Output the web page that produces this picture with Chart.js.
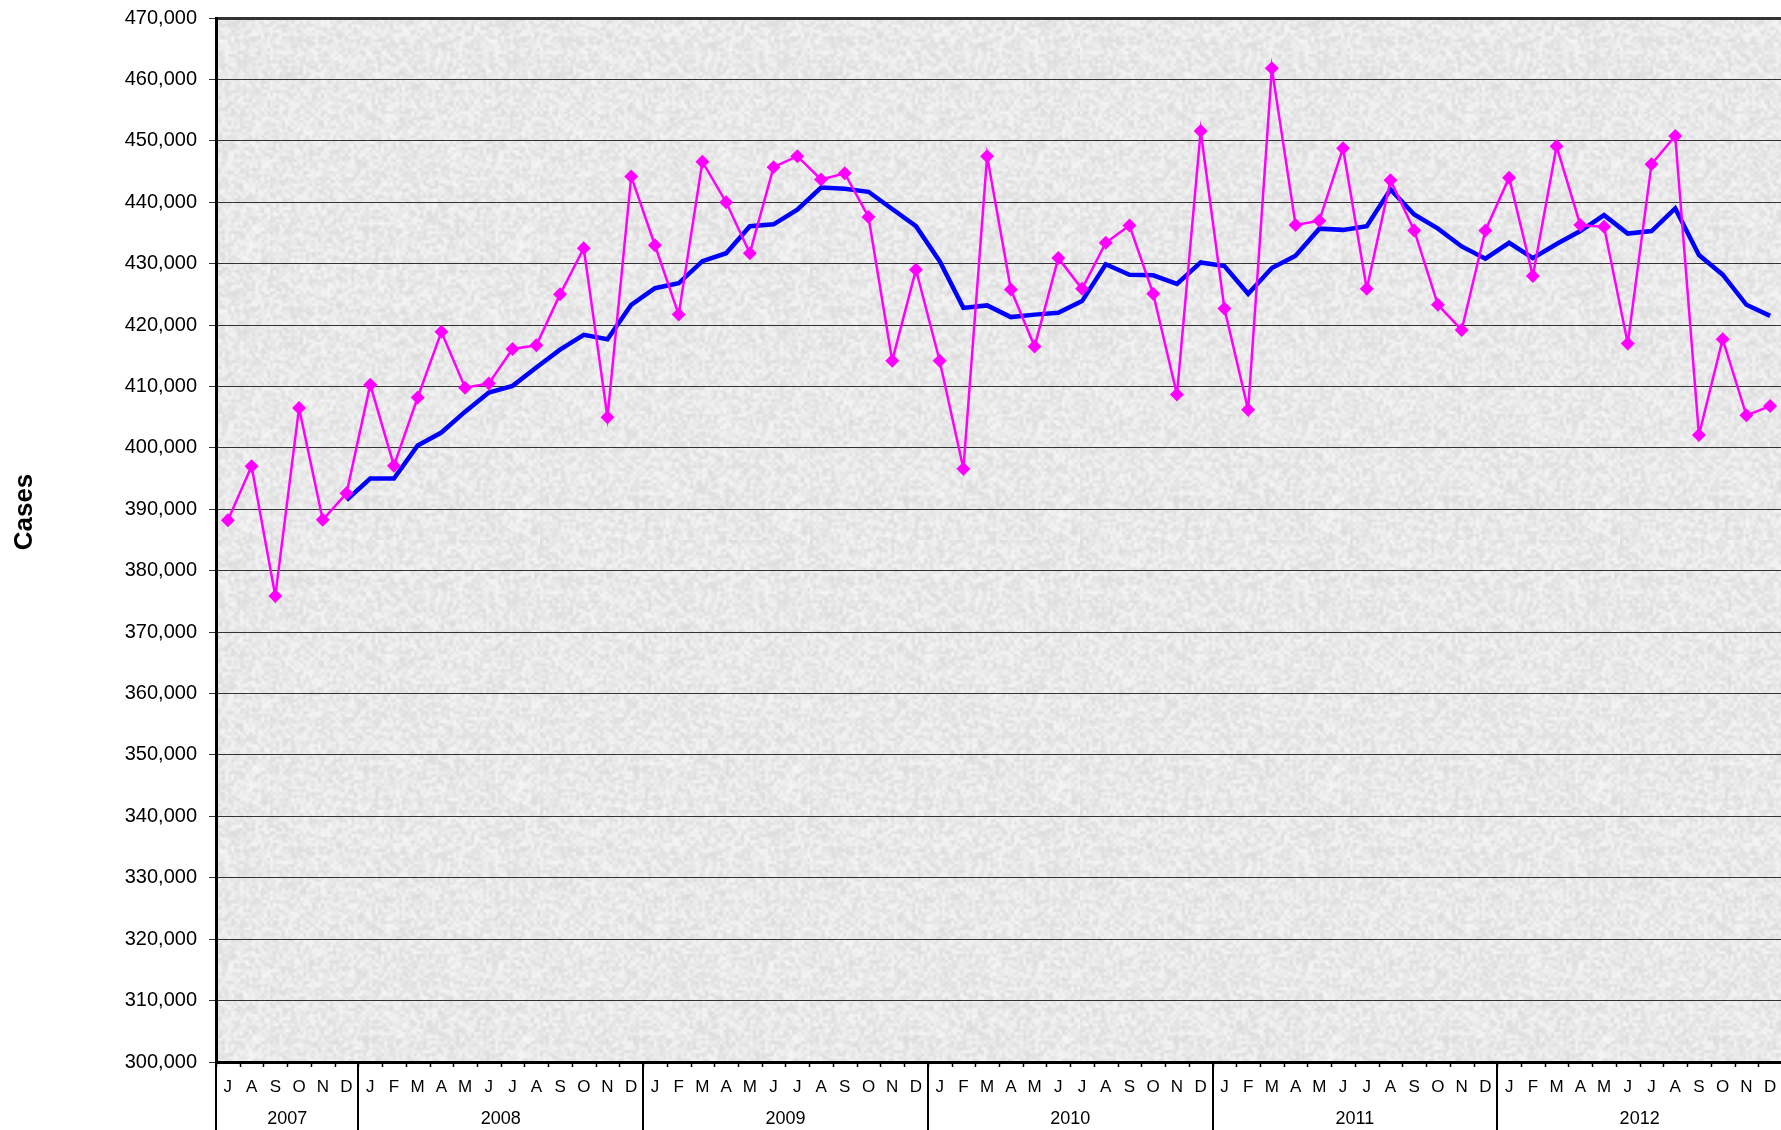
<!DOCTYPE html>
<html>
<head>
<meta charset="utf-8">
<title>Cases by month</title>
<script src="https://cdn.jsdelivr.net/npm/chart.js@4.4.1/dist/chart.umd.min.js"></script>
<style>
    html, body { margin: 0; padding: 0; background: #fff; overflow: hidden; }
    #chart { display: block; }
</style>
</head>
<body>
<!-- plot runs a few pixels past the right edge of the window, as in the reference -->
<canvas id="chart" width="1789" height="1130"></canvas>
<script>
// ---- data ----
const years = ['2007', '2008', '2009', '2010', '2011', '2012'];
const monthsPerYear = [6, 12, 12, 12, 12, 12];
const monthLetters = ['J','F','M','A','M','J','J','A','S','O','N','D'];
const firstMonth = 6; // July 2007

// monthly cases (magenta, diamonds)
const monthlyCases = [
    388200, 397000, 375900, 406500, 388300, 392600,
    410300, 397100, 408200, 418900, 409800, 410500, 416100, 416700, 425000, 432500, 405000, 444200,
    433000, 421700, 446600, 440000, 431700, 445700, 447500, 443700, 444700, 437600, 414200, 429000,
    414200, 396600, 447500, 425800, 416500, 430900, 425900, 433400, 436200, 425100, 408700, 451600,
    422700, 406200, 461800, 436300, 437000, 448800, 425900, 443600, 435400, 423300, 419200, 435400,
    444000, 428000, 449100, 436300, 436000, 417000, 446200, 450800, 402100, 417700, 405300, 406800
];

// moving average (blue line), starts Dec 2007
const movingAvg = [
    null, null, null, null, null, 391500,
    395000, 395000, 400400, 402500, 405900, 409000, 410100, 413100, 416000, 418400, 417700, 423300,
    426000, 426800, 430400, 431700, 436100, 436400, 438800, 442400, 442200, 441700, 438900, 436100,
    430400, 422800, 423200, 421300, 421700, 422000, 423900, 429900, 428200, 428100, 426700, 430200,
    429600, 425100, 429300, 431300, 435700, 435500, 436100, 442100, 438000, 435700, 432800, 430800,
    433400, 430900, 433200, 435300, 437900, 434900, 435300, 439000, 431400, 428200, 423300, 421500
];

const yMin = 300000, yMax = 470000, yStep = 10000;
const yTitle = 'Cases';

// month labels built from the year list
const labels = [];
let m = firstMonth;
monthsPerYear.forEach(n => {
    for (let i = 0; i < n; i++) { labels.push(monthLetters[m]); m = (m + 1) % 12; }
});

const FONT = "'Liberation Sans', Arial, Helvetica, sans-serif";

// grainy grey fill like the reference plot area (deterministic hash, no randomness)
function makeTexture() {
    const small = document.createElement('canvas');
    small.width = 90; small.height = 90;
    const sctx = small.getContext('2d');
    const img = sctx.createImageData(90, 90);
    for (let y = 0; y < 90; y++) {
        for (let x = 0; x < 90; x++) {
            const h = Math.sin(x * 12.9898 + y * 78.233) * 43758.5453;
            const f = h - Math.floor(h);
            const v = Math.round(233 + (f - 0.5) * 26);
            const k = (y * 90 + x) * 4;
            img.data[k] = img.data[k + 1] = img.data[k + 2] = v;
            img.data[k + 3] = 255;
        }
    }
    sctx.putImageData(img, 0, 0);
    const big = document.createElement('canvas');
    big.width = 270; big.height = 270;
    const bctx = big.getContext('2d');
    bctx.imageSmoothingEnabled = true;
    bctx.drawImage(small, 0, 0, 270, 270);
    return big;
}
const texture = makeTexture();

const plotBackground = {
    id: 'plotBackground',
    beforeDraw(chart) {
        const {ctx, chartArea: a} = chart;
        ctx.save();
        ctx.fillStyle = ctx.createPattern(texture, 'repeat');
        ctx.fillRect(a.left, a.top, a.right - a.left, a.bottom - a.top);
        ctx.restore();
    }
};

// two-level month / year axis plus the y title
const axisDecor = {
    id: 'axisDecor',
    afterDraw(chart) {
        const {ctx, chartArea: a} = chart;
        const n = labels.length;
        const w = (a.right - a.left) / n;
        const base = a.bottom;
        ctx.save();
        ctx.strokeStyle = '#000';
        ctx.fillStyle = '#000';

        // minor ticks at each month boundary
        ctx.lineWidth = 1.5;
        for (let i = 0; i <= n; i++) {
            const x = Math.round(a.left + i * w) + 0.5;
            ctx.beginPath(); ctx.moveTo(x, base); ctx.lineTo(x, base + 5); ctx.stroke();
        }

        // month letters
        ctx.font = '17px ' + FONT;
        ctx.textAlign = 'center';
        ctx.textBaseline = 'middle';
        const xs = chart.scales.x;
        labels.forEach((l, i) => ctx.fillText(l, xs.getPixelForValue(i), base + 25));

        // year separators and labels
        ctx.lineWidth = 2;
        ctx.font = '18px ' + FONT;
        let start = 0;
        years.forEach((yr, j) => {
            const x0 = a.left + start * w;
            const x1 = a.left + (start + monthsPerYear[j]) * w;
            ctx.beginPath(); ctx.moveTo(Math.round(x0), base); ctx.lineTo(Math.round(x0), chart.height); ctx.stroke();
            ctx.fillText(yr, (x0 + x1) / 2, base + 57);
            start += monthsPerYear[j];
        });

        // y axis title
        ctx.translate(25, 512);
        ctx.rotate(-Math.PI / 2);
        ctx.font = 'bold 26px ' + FONT;
        ctx.fillText(yTitle, 0, 0);
        ctx.restore();
    }
};

new Chart(document.getElementById('chart'), {
    type: 'line',
    data: {
        labels: labels,
        datasets: [
            {
                label: 'Cases',
                data: monthlyCases,
                borderColor: '#FF00FF',
                backgroundColor: '#FF00FF',
                borderWidth: 2.5,
                pointStyle: 'rectRot',
                pointRadius: 7,
                pointBorderWidth: 0,
                pointBackgroundColor: '#FF00FF',
                tension: 0
            },
            {
                label: 'Moving average',
                data: movingAvg,
                borderColor: '#0000FF',
                borderWidth: 4.5,
                pointRadius: 0,
                tension: 0,
                spanGaps: false
            }
        ]
    },
    options: {
        responsive: false,
        devicePixelRatio: 1,
        animation: false,
        layout: {padding: {top: 18, left: 0, right: 0, bottom: 0}},
        plugins: {legend: {display: false}, tooltip: {enabled: false}},
        scales: {
            x: {
                type: 'category',
                offset: true,
                ticks: {display: false},
                grid: {display: false, drawTicks: false},
                border: {display: true, color: '#000', width: 3},
                afterFit(scale) {
                    scale.height = 68;
                    scale.paddingLeft = 0;
                    scale.paddingRight = 0;
                }
            },
            y: {
                min: yMin,
                max: yMax,
                ticks: {
                    stepSize: yStep,
                    color: '#000',
                    padding: 12,
                    font: {size: 20, family: FONT},
                    callback: v => v.toLocaleString('en-US')
                },
                grid: {
                    color: '#333',
                    lineWidth: c => (c.tick && c.tick.value === yMax) ? 3 : 1,
                    tickLength: 7,
                    tickColor: '#333',
                    tickWidth: 1
                },
                border: {display: true, color: '#000', width: 3},
                afterFit(scale) {
                    scale.width = 216;
                    scale.paddingTop = 0;
                    scale.paddingBottom = 0;
                }
            }
        }
    },
    plugins: [plotBackground, axisDecor]
});
</script>
</body>
</html>
